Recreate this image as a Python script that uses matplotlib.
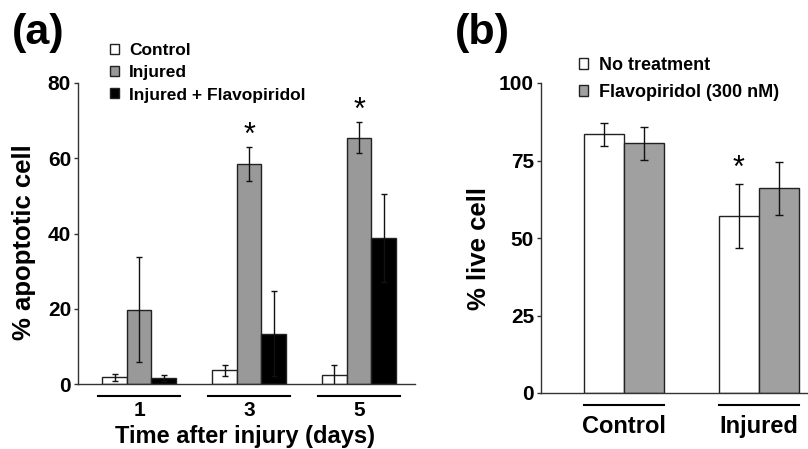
import numpy as np
import matplotlib
matplotlib.use("Agg")
import matplotlib.pyplot as plt
import matplotlib.transforms as mtransforms

plt.rcParams['font.family'] = ['Liberation Sans', 'DejaVu Sans']
plt.rcParams['font.weight'] = 'bold'
plt.rcParams['axes.labelweight'] = 'bold'

# ---- datos panel (a): % celulas apoptoticas ----
dias = ["1", "3", "5"]
series_a = ["Control", "Injured", "Injured + Flavopiridol"]
control_a = [1.8, 3.6, 2.4]
control_a_err = [0.9, 1.5, 2.6]
injured_a = [19.8, 58.5, 65.5]
injured_a_err = [14.0, 4.5, 4.2]
flavo_a = [1.6, 13.3, 38.9]
flavo_a_err = [0.7, 11.3, 11.7]
signif_a = [False, True, True]   # asterisco sobre "Injured"

# ---- datos panel (b): % celulas vivas ----
grupos_b = ["Control", "Injured"]
series_b = ["No treatment", "Flavopiridol (300 nM)"]
notreat_b = [83.4, 57.1]
notreat_b_err = [3.6, 10.2]
flavo_b = [80.5, 66.0]
flavo_b_err = [5.3, 8.6]
signif_b = [False, True]          # asterisco sobre "No treatment"

W, H = 808, 449
fig = plt.figure(figsize=(W / 100, H / 100), dpi=100)

edge = "#222222"


def px_ax(left, right, top, bottom):
    return fig.add_axes([left / W, 1 - bottom / H, (right - left) / W, (bottom - top) / H])


def estilo(ax):
    for s in ["top", "right"]:
        ax.spines[s].set_visible(False)
    for s in ["left", "bottom"]:
        ax.spines[s].set_color("#333333")
        ax.spines[s].set_linewidth(1.0)
    ax.tick_params(axis="y", length=3, width=1, pad=2, labelsize=15, color="#333333")
    ax.tick_params(axis="x", length=0, labelsize=15)
    ax.patch.set_visible(False)


# =============================================================
# Panel (a)
# =============================================================
ax1 = px_ax(78, 415, 83, 384)
estilo(ax1)
x = np.arange(len(dias))
w = 0.223
b1 = ax1.bar(x - w, control_a, w, color="white", edgecolor=edge, linewidth=1, label=series_a[0])
b2 = ax1.bar(x, injured_a, w, color="#999999", edgecolor=edge, linewidth=1, label=series_a[1])
b3 = ax1.bar(x + w, flavo_a, w, color="black", edgecolor=edge, linewidth=1, label=series_a[2])
ax1.errorbar(x - w, control_a, yerr=control_a_err, fmt="none", ecolor="#111111", elinewidth=1, capsize=2)
ax1.errorbar(x, injured_a, yerr=injured_a_err, fmt="none", ecolor="#111111", elinewidth=1, capsize=2)
ax1.errorbar(x + w, flavo_a, yerr=flavo_a_err, fmt="none", ecolor="#111111", elinewidth=1, capsize=2)

for i in range(len(dias)):
    if signif_a[i]:
        ax1.annotate("*", xy=(x[i], injured_a[i] + injured_a_err[i]), xytext=(0, -3),
                     textcoords="offset points", ha="center", va="bottom",
                     fontsize=22, fontweight="normal")

ax1.set_xlim(-0.555, 2.509)
ax1.set_ylim(0, 80)
ax1.set_yticks([0, 20, 40, 60, 80])
ax1.set_xticks(x)
ax1.set_xticklabels(dias)
ax1.tick_params(axis="x", pad=12)

trans1 = mtransforms.blended_transform_factory(ax1.transData, ax1.transAxes)
for i in range(len(dias)):
    ax1.plot([x[i] - 0.37, x[i] + 0.37], [-0.04, -0.04], color="black", lw=1.5,
             transform=trans1, clip_on=False)

ax1.set_ylabel("% apoptotic cell", fontsize=18.5, fontweight="bold")
ax1.yaxis.set_label_coords(-0.124, 0.47)
ax1.set_xlabel("Time after injury (days)", fontsize=17, fontweight="bold")
ax1.xaxis.set_label_coords(0.4955, -0.136)

ax1.legend(handles=[b1, b2, b3], loc="upper left", bbox_to_anchor=(110 / W, 1 - 43 / H),
           bbox_transform=fig.transFigure, frameon=False, fontsize=12.5,
           handlelength=0.5, handleheight=0.5, handletextpad=0.6, labelspacing=0.42,
           borderpad=0, borderaxespad=0)

fig.text(12 / W, 1 - 33 / H, "(a)", fontsize=31, fontweight="bold", va="center", ha="left")

# =============================================================
# Panel (b)
# =============================================================
ax2 = px_ax(541, 807, 83, 393)
estilo(ax2)
xb = np.arange(len(grupos_b))
wb = 0.297
c1 = ax2.bar(xb - wb / 2, notreat_b, wb, color="white", edgecolor=edge, linewidth=1, label=series_b[0])
c2 = ax2.bar(xb + wb / 2, flavo_b, wb, color="#a0a0a0", edgecolor=edge, linewidth=1, label=series_b[1])
ax2.errorbar(xb - wb / 2, notreat_b, yerr=notreat_b_err, fmt="none", ecolor="#111111", elinewidth=1, capsize=3)
ax2.errorbar(xb + wb / 2, flavo_b, yerr=flavo_b_err, fmt="none", ecolor="#111111", elinewidth=1, capsize=3)

for i in range(len(grupos_b)):
    if signif_b[i]:
        ax2.annotate("*", xy=(xb[i] - wb / 2, notreat_b[i] + notreat_b_err[i]), xytext=(0, 0),
                     textcoords="offset points", ha="center", va="bottom",
                     fontsize=22, fontweight="normal")

ax2.set_xlim(-0.617, 1.36)
ax2.set_ylim(0, 100)
ax2.set_yticks([0, 25, 50, 75, 100])
ax2.set_xticks(xb)
ax2.set_xticklabels(grupos_b, fontsize=17)
ax2.tick_params(axis="x", pad=16)

trans2 = mtransforms.blended_transform_factory(ax2.transData, ax2.transAxes)
for i in range(len(grupos_b)):
    ax2.plot([xb[i] - 0.297, xb[i] + 0.297], [-0.039, -0.039], color="black", lw=1.5,
             transform=trans2, clip_on=False)

ax2.set_ylabel("% live cell", fontsize=18.5, fontweight="bold")
ax2.yaxis.set_label_coords(-0.188, 0.465)

ax2.legend(handles=[c1, c2], loc="upper left", bbox_to_anchor=(579 / W, 1 - 57 / H),
           bbox_transform=fig.transFigure, frameon=False, fontsize=13,
           handlelength=0.5, handleheight=0.5, handletextpad=0.6, labelspacing=0.55,
           borderpad=0, borderaxespad=0)

fig.text(455 / W, 1 - 33 / H, "(b)", fontsize=31, fontweight="bold", va="center", ha="left")

plt.savefig("out.png", dpi=100)
